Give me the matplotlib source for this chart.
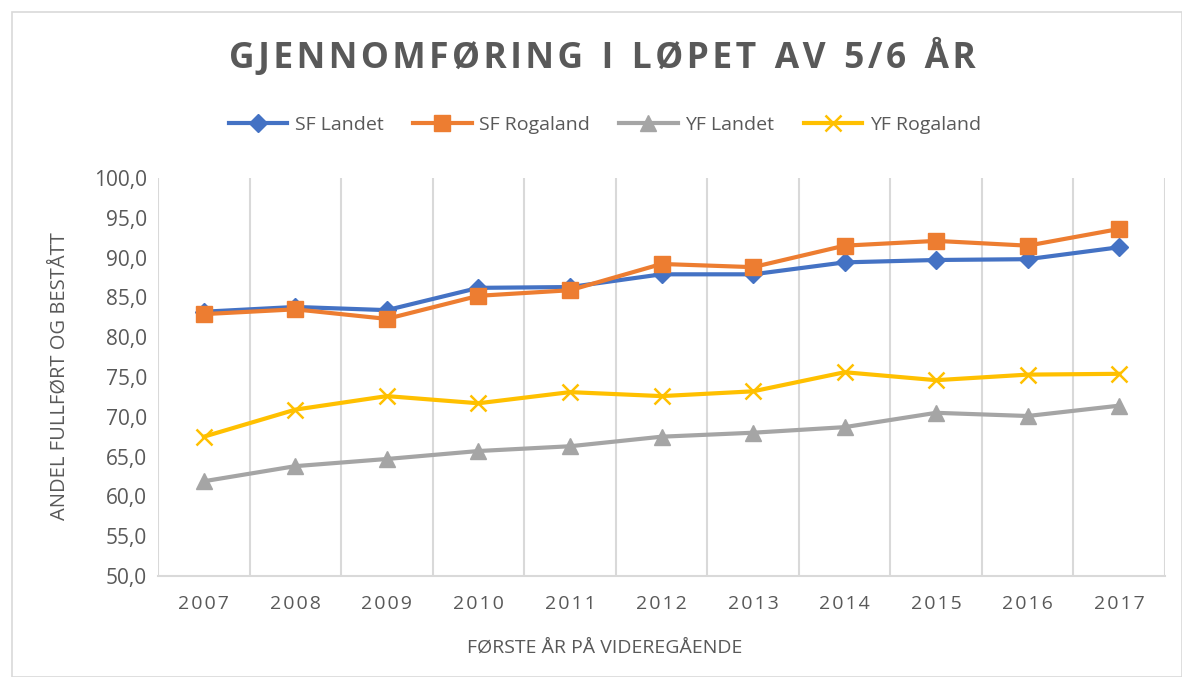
import matplotlib.pyplot as plt
from matplotlib.patches import Rectangle
from matplotlib.ticker import FuncFormatter, MultipleLocator

plt.rcParams["font.family"] = ["Open Sans", "DejaVu Sans"]

years = ["2007", "2008", "2009", "2010", "2011", "2012", "2013", "2014", "2015", "2016", "2017"]
sf_landet = [83.2, 83.8, 83.4, 86.2, 86.3, 87.9, 87.9, 89.4, 89.7, 89.8, 91.3]
sf_rogaland = [82.9, 83.5, 82.3, 85.2, 85.9, 89.2, 88.8, 91.5, 92.1, 91.5, 93.6]
yf_landet = [61.9, 63.8, 64.7, 65.7, 66.3, 67.5, 68.0, 68.7, 70.5, 70.1, 71.4]
yf_rogaland = [67.5, 70.9, 72.6, 71.7, 73.1, 72.6, 73.2, 75.6, 74.6, 75.3, 75.4]

title = "GJENNOMFØRING I LØPET AV 5/6 ÅR"
hair = "\u200a"

fig = plt.figure(figsize=(11.82, 6.77), dpi=100)
fig.patches.append(Rectangle((12 / 1182, 0), 1 - 12 / 1182, 1 - 12 / 677, transform=fig.transFigure,
                             fill=False, edgecolor="#d9d9d9", linewidth=1.2))
ax = fig.add_axes([158 / 1182, 101 / 677, 1007 / 1182, 398 / 677])

x = range(len(years))
ax.plot(x, sf_landet, color="#4472c4", lw=3, marker="D", ms=9, label="SF Landet")
ax.plot(x, sf_rogaland, color="#ed7d31", lw=3, marker="s", ms=11, label="SF Rogaland")
ax.plot(x, yf_landet, color="#a5a5a5", lw=3, marker="^", ms=11, label="YF Landet")
ax.plot(x, yf_rogaland, color="#ffc000", lw=3, marker="x", ms=11, mew=1.8, label="YF Rogaland")

ax.set_xlim(-0.5, len(years) - 0.5)
ax.set_ylim(50, 100)
ax.set_xticks(list(x))
ax.set_xticklabels([hair.join(y) for y in years])
ax.set_xticks([i - 0.5 for i in range(len(years) + 1)], minor=True)
ax.grid(True, which="minor", axis="x", color="#d9d9d9", lw=1.5)
ax.yaxis.set_major_locator(MultipleLocator(5))
ax.yaxis.set_major_formatter(FuncFormatter(lambda v, p: f"{v:.1f}".replace(".", ",")))
ax.tick_params(axis="y", length=0, labelsize=15, colors="#595959", pad=8)
ax.tick_params(axis="x", which="both", length=0, labelsize=14, colors="#595959", pad=14)

for s in ["top", "right", "left"]:
    ax.spines[s].set_visible(False)
ax.spines["bottom"].set_color("#d9d9d9")
ax.spines["bottom"].set_linewidth(1.5)

fig.text(60 / 1182, 1 - 376 / 677, "ANDEL FULLFØRT OG BESTÅTT", rotation=90, ha="center", va="center",
         fontsize=14.5, color="#595959")
fig.text(605 / 1182, 1 - 648 / 677, "FØRSTE ÅR PÅ VIDEREGÅENDE", ha="center", va="center",
         fontsize=14, color="#595959")

spaced = "  ".join(hair.join(w) for w in title.split(" "))
fig.text(602 / 1182, 1 - 58 / 677, spaced, ha="center", va="center",
         fontsize=25.5, fontweight="bold", color="#595959")

fig.legend(loc="center", bbox_to_anchor=(605 / 1182, 0.815), ncol=4, frameon=False, fontsize=14,
           labelcolor="#595959", handlelength=3, columnspacing=1.5, handletextpad=0.4)

plt.savefig("out.png", dpi=100)
